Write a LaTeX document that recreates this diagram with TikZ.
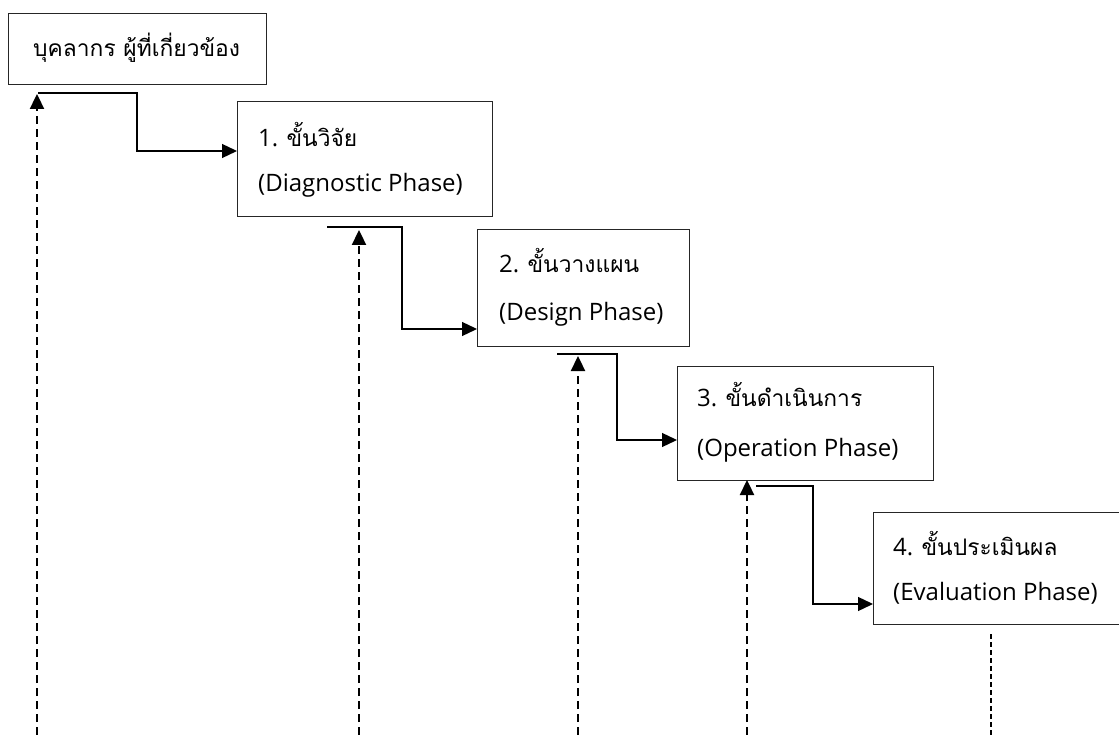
\documentclass[tikz,border=0pt]{standalone}
\usepackage{fontspec}
\setmainfont{Open Sans}
\newfontfamily\thaifont[Script=Thai,Scale=0.95]{Loma}
\usetikzlibrary{arrows.meta}
\tikzset{
  box/.style={draw=black!85, line width=1.3pt, fill=white, inner sep=0pt, anchor=north west},
  lbl/.style={anchor=base west, inner sep=0pt, font=\fontsize{24}{28}\selectfont},
  conn/.style={line width=1.3pt, -{Triangle[length=15pt,width=14pt]}},
  fb/.style={line width=2.3pt, dash pattern=on 8pt off 5pt, -{Triangle[length=15pt,width=14pt]}},
  fbend/.style={line width=1.5pt, dash pattern=on 5pt off 3pt}
}
\begin{document}
\begin{tikzpicture}[x=1pt,y=-1pt]
\useasboundingbox[fill=white] (0,0) rectangle (1119,735);
% boxes
\node[box, minimum width=258pt, minimum height=71pt] (b0) at (8,13) {};
\node[box, minimum width=255pt, minimum height=115pt] (b1) at (237,101) {};
\node[box, minimum width=212pt, minimum height=117pt] (b2) at (477,229) {};
\node[box, minimum width=256pt, minimum height=114pt] (b3) at (677,366) {};
\node[box, minimum width=260pt, minimum height=112pt] (b4) at (873,512) {};
% labels
\node[lbl] (t0) at (33,57) {\thaifont บุคลากร ผู้ที่เกี่ยวข้อง};
\node[lbl] (t1a) at (258,147) {1. {\thaifont ขั้นวิจัย}};
\node[lbl] (t1b) at (258,192) {(Diagnostic Phase)};
\node[lbl] (t2a) at (499,273) {2. {\thaifont ขั้นวางแผน}};
\node[lbl] (t2b) at (499,320) {(Design Phase)};
\node[lbl] (t3a) at (697,406) {3. {\thaifont ขั้นดำเนินการ}};
\node[lbl] (t3b) at (697,456) {(Operation Phase)};
\node[lbl] (t4a) at (893,555) {4. {\thaifont ขั้นประเมินผล}};
\node[lbl] (t4b) at (893,600) {(Evaluation Phase)};
% connector coordinates
\coordinate (s1) at (38,93);
\coordinate (s2) at (327,227);
\coordinate (s3) at (557,354);
\coordinate (s4) at (756,486);
\coordinate (k1) at (137,151);
\coordinate (k2) at (402,329);
\coordinate (k3) at (617,440);
\coordinate (k4) at (813,604);
% forward connectors
\draw[conn] (s1) -| (k1) -- (b1.west |- k1);
\draw[conn] (s2) -| (k2) -- (b2.west |- k2);
\draw[conn] (s3) -| (k3) -- (b3.west |- k3);
\draw[conn] (s4) -| (k4) -- (b4.west |- k4);
% feedback dashed lines
\coordinate (f1) at (37,735);
\coordinate (f2) at (359,735);
\coordinate (f3) at (578,735);
\coordinate (f4) at (747,735);
\coordinate (p1) at (37,94);
\coordinate (p2) at (359,230);
\coordinate (p3) at (578,356);
\coordinate (p4) at (747,480);
\draw[fb] (f1) -- (p1);
\draw[fb] (f2) -- (p2);
\draw[fb] (f3) -- (p3);
\draw[fb] (f4) -- (p4);
\coordinate (e5) at (991,735);
\draw[fbend] (b4.south -| e5) ++(0,9) -- (e5);
\end{tikzpicture}
\end{document}
